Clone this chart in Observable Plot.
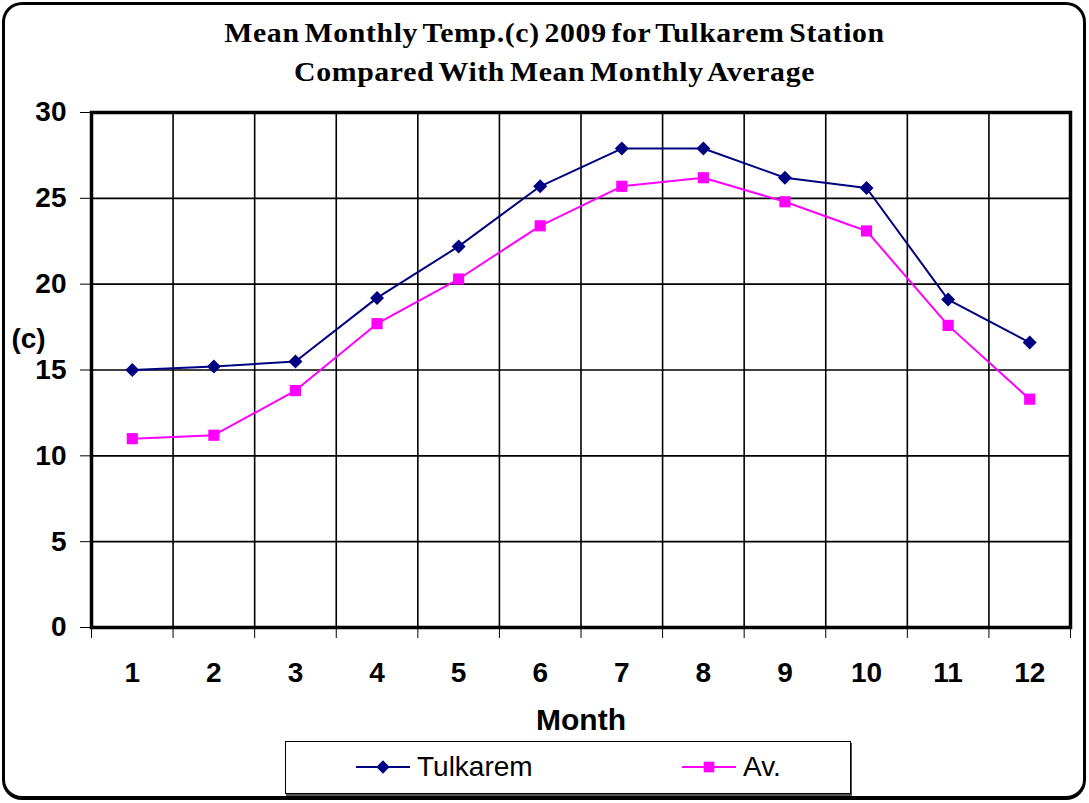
<!DOCTYPE html>
<html>
<head>
<meta charset="utf-8">
<script src="https://cdn.jsdelivr.net/npm/d3@7"></script>
<script src="https://cdn.jsdelivr.net/npm/@observablehq/plot@0.6"></script>
<style>
  html, body { margin: 0; padding: 0; background: #fff; }
  #wrap { position: relative; width: 1089px; height: 803px; overflow: hidden; background: #fff; }
  #frame { position: absolute; left: 2px; top: 2px; width: 1084px; height: 798px; box-sizing: border-box;
           border: 3px solid #000; border-bottom-width: 4px; border-radius: 20px; }
  #title { position: absolute; left: 10px; top: 13px; width: 1089px; text-align: center;
           font-family: "Liberation Serif", "Times New Roman", serif; font-weight: bold; font-size: 28px;
           line-height: 39px; color: #000; letter-spacing: 0.6px; word-spacing: -3px;
           transform: scaleX(1.063); transform-origin: 544px 0; }
  #chart { position: absolute; left: 0; top: 95px; }
  #legend { position: absolute; left: 285px; top: 741px; width: 566px; height: 53px; box-sizing: border-box;
            border: 1.5px solid #000; box-shadow: 1px 2px 0 #555; background: #fff; }
  .lg { position: absolute; top: 0; height: 50px; display: flex; align-items: center;
        font-family: "Liberation Sans", Arial, sans-serif; font-size: 28px; color: #000; }
  .lg svg { margin-right: 7px; }
</style>
</head>
<body>
<div id="wrap">
  <div id="frame"></div>
  <div id="title">Mean Monthly Temp.(c) 2009 for Tulkarem Station<br>Compared With Mean Monthly Average</div>
  <div id="chart"></div>
  <div id="legend"></div>
</div>
<script>
const months = [1, 2, 3, 4, 5, 6, 7, 8, 9, 10, 11, 12];
const tulkarem = [15.0, 15.2, 15.5, 19.2, 22.2, 25.7, 27.9, 27.9, 26.2, 25.6, 19.1, 16.6];
const average = [11.0, 11.2, 13.8, 17.7, 20.3, 23.4, 25.7, 26.2, 24.8, 23.1, 17.6, 13.3];
const yTicks = [0, 5, 10, 15, 20, 25, 30];
const seriesNames = ["Tulkarem", "Av."];
const seriesColors = ["#000080", "#FF00FF"];
const seriesSymbols = ["diamond2", "square"];
const xTitle = "Month";
const yTitle = "(c)";

const rows = [];
months.forEach((m, i) => {
  rows.push({month: m, value: tulkarem[i], series: seriesNames[0]});
  rows.push({month: m, value: average[i], series: seriesNames[1]});
});
const boundaries = [months[0] - 0.5, ...months.map(m => m + 0.5)];

const font = '"Liberation Sans", Arial, sans-serif';

const plot = Plot.plot({
  width: 1089,
  height: 645,
  marginTop: 17,
  marginBottom: 113,
  marginLeft: 91,
  marginRight: 19,
  style: {fontFamily: font, fontSize: "28px", fontWeight: "bold", color: "#000", background: "transparent"},
  x: {type: "linear", domain: [boundaries[0], boundaries[boundaries.length - 1]], label: null},
  y: {domain: [0, 30], label: null},
  color: {domain: seriesNames, range: seriesColors},
  symbol: {domain: seriesNames, range: seriesSymbols},
  marks: [
    Plot.ruleY(yTicks, {stroke: "#000", strokeWidth: 1.6}),
    Plot.ruleX(boundaries, {stroke: "#000", strokeWidth: 1.6}),
    Plot.frame({stroke: "#000", strokeWidth: 3.5}),
    Plot.axisY({ticks: yTicks, tickSize: 11, tickPadding: 14, strokeWidth: 1, fontSize: 28, fontWeight: "bold"}),
    Plot.axisX({ticks: boundaries, tickSize: 11, strokeWidth: 1, tickFormat: () => ""}),
    Plot.axisX({ticks: months, tickSize: 0, tickPadding: 35, fontSize: 28, fontWeight: "bold", tickFormat: d => String(d)}),
    Plot.line(rows, {x: "month", y: "value", z: "series", stroke: "series", strokeWidth: 2}),
    Plot.dot(rows, {x: "month", y: "value", fill: "series", symbol: "series", r: 6.3, stroke: null}),
    Plot.text([xTitle], {frameAnchor: "bottom", dy: 93, lineAnchor: "middle", fontSize: 30, fontWeight: "bold"}),
    Plot.text([yTitle], {frameAnchor: "left", dx: -63, dy: -31, textAnchor: "middle", lineAnchor: "middle", fontSize: 28, fontWeight: "bold"})
  ]
});
document.getElementById("chart").appendChild(plot);

// legend
const legend = document.getElementById("legend");
const lgX = [70, 396];
seriesNames.forEach((name, i) => {
  const item = document.createElement("div");
  item.className = "lg";
  item.style.left = lgX[i] + "px";
  const ns = "http://www.w3.org/2000/svg";
  const svg = document.createElementNS(ns, "svg");
  svg.setAttribute("width", 54);
  svg.setAttribute("height", 20);
  const ln = document.createElementNS(ns, "line");
  ln.setAttribute("x1", 0); ln.setAttribute("x2", 54);
  ln.setAttribute("y1", 10); ln.setAttribute("y2", 10);
  ln.setAttribute("stroke", seriesColors[i]); ln.setAttribute("stroke-width", 2);
  svg.appendChild(ln);
  const p = document.createElementNS(ns, "path");
  const sym = seriesSymbols[i] === "square" ? d3.symbolSquare : d3.symbolDiamond2;
  p.setAttribute("d", d3.symbol(sym, Math.PI * 36)());
  p.setAttribute("transform", "translate(27,10)");
  p.setAttribute("fill", seriesColors[i]);
  svg.appendChild(p);
  item.appendChild(svg);
  const t = document.createElement("span");
  t.textContent = name;
  item.appendChild(t);
  legend.appendChild(item);
});
</script>
</body>
</html>
